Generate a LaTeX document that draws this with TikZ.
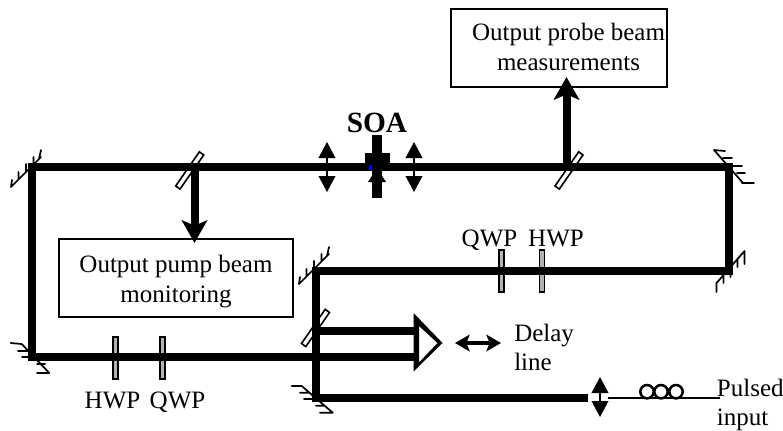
\documentclass[tikz,border=0pt]{standalone}
\usepackage{fontspec}
\setmainfont{Liberation Serif}
\usetikzlibrary{arrows.meta}
\tikzset{
  beam/.style={line width=6pt,line join=miter,line cap=butt},
  boxnode/.style={draw,line width=1.3pt,inner sep=0pt,fill=white},
  txt/.style={font=\fontsize{18.75}{22.5}\selectfont,inner sep=0pt},
  fine/.style={line width=1.3pt,line cap=round,line join=round},
  plate/.style={draw,line width=1.2pt,fill=gray!60},
  bigarrow/.style={line width=6pt,-{Stealth[length=17pt,width=19pt,inset=4pt]}},
  lens/.style={line width=1.2pt,{Triangle[length=12pt,width=12.5pt]}-{Triangle[length=12pt,width=12.5pt]}},
  splitter/.pic={\draw[line width=1.2pt,fill=white] (-14,15.5)--(-9.7,18.6)--(14,-15.5)--(9.7,-18.7)--cycle;},
  mirrorup/.pic={\draw[fine] (-15,15)--(15,-15)
     (-15,15)--(-14,8) (-7.5,7.5)--(-7.5,0) (0,0)--(0,-8) (7.5,-7.5)--(7.5,-15) (13,-13)--(15,-22);},
  mirrordown/.pic={\draw[fine] (-14,16)--(14,-16)
     (-14,16)--(-14,25) (-7,8)--(-7,16) (0,0)--(0,10) (7,-8)--(7,0) (14,-16)--(14,-3);},
}
\begin{document}
\begin{tikzpicture}[x=0.75pt,y=-0.75pt]
\useasboundingbox (0,0) rectangle (783,430);
% named junctions
\coordinate (tl) at (32,167);
\coordinate (tr) at (729,167);
\coordinate (mr) at (729,270.5);
\coordinate (ml) at (316,270.5);
\coordinate (bm) at (316,398);
\coordinate (bl) at (32,357);
\coordinate (end1) at (415,357);
\coordinate (end2) at (415,331);
\coordinate (start2) at (316,331);
\coordinate (beamend) at (588,398);
\coordinate (fibA) at (608,397.5);
\coordinate (fibB) at (720,397.5);
\coordinate (bsA) at (194.5,167);
\coordinate (bsB) at (566.5,167);
% boxes
\node[boxnode,minimum width=162.4pt,minimum height=58.5pt] (probe) at (559,48) {};
\node[boxnode,minimum width=175pt,minimum height=58.5pt] (pump) at (176,278.3) {};
\node[txt,anchor=base] (probeA) at (568.5,40) {Output probe beam};
\node[txt,anchor=base] (probeB) at (568.5,70) {measurements};
\node[txt,anchor=base] (pumpA) at (176,272) {Output pump beam};
\node[txt,anchor=base] (pumpB) at (176,302) {monitoring};
% splitters and plates (under the beams)
\pic at (189.7,170.5) {splitter};
\pic at (569,170.5) {splitter};
\pic at (315.5,328) {splitter};
\node[plate,minimum width=4pt,minimum height=31.5pt,inner sep=0pt] (hwpL) at (115.5,358) {};
\node[plate,minimum width=4pt,minimum height=31.5pt,inner sep=0pt] (qwpL) at (162.5,358) {};
\node[plate,minimum width=4pt,minimum height=31.5pt,inner sep=0pt] (qwpU) at (501.5,271) {};
\node[plate,minimum width=4pt,minimum height=31.5pt,inner sep=0pt] (hwpU) at (542,271) {};
% beams
\draw[beam] (end1)--(bl)--(tl)--(tr)--(mr)--(ml)--(bm)--(beamend);
\draw[beam] (start2)--(end2);
\draw[bigarrow] (bsA)--(194.5,243);
\draw[bigarrow] (bsB)--(566.5,77);
% mirrors
\pic at (26,172) {mirrorup};
\pic at (314,269) {mirrorup};
\pic at (730.5,267) {mirrordown};
\draw[fine] (714,150)--(743,183)
  (714,150)--(725,151) (723,158)--(732,158) (732,166)--(742,166) (737,173)--(745,173) (742,183)--(754,183);
\draw[fine] (21.7,344)--(49.3,373)
  (10.7,343)--(21.7,344) (18,351)--(28,351) (22,357)--(33,357) (37,364)--(45,364) (37,373)--(49.3,373);
\draw[fine] (301.7,386)--(332.7,412.7)
  (291.7,386)--(301.7,386) (300,392.7)--(309.3,392.7) (304,399)--(315,399) (316,405.7)--(325,405.7) (320,412.7)--(332.7,412.7);
% retro-reflector
\fill[even odd rule] (413.5,313)--(442.5,343)--(413.5,371.5)--cycle (419,326)--(419,362.5)--(437.5,343)--cycle;
% SOA
\fill (372,135) rectangle (382,198);
\fill (364.5,152.5) rectangle (389.5,165);
\fill (377,168)--(386,182)--(368,182)--cycle;
\fill[blue] (369,165) rectangle (372,170);
\node[anchor=base,inner sep=0pt,font=\bfseries\fontsize{22}{26}\selectfont] (soa) at (377,132) {SOA};
% lenses
\coordinate (lensAa) at (327,142); \coordinate (lensAb) at (327,192);
\coordinate (lensBa) at (414,142); \coordinate (lensBb) at (414,192);
\coordinate (lensCa) at (600,377); \coordinate (lensCb) at (600,417);
\draw[lens] (lensAa)--(lensAb);
\draw[lens] (lensBa)--(lensBb);
\draw[lens] (lensCa)--(lensCb);
% delay arrow
\coordinate (delA) at (455,343); \coordinate (delB) at (501,343);
\draw[line width=3pt,{Stealth[length=11pt,width=12.5pt,inset=2.5pt]}-{Stealth[length=11pt,width=12.5pt,inset=2.5pt]}] (delA)--(delB);
% fibre
\draw[line width=1.5pt] (fibA)--(fibB);
\draw[line width=1.9pt] (647,391.7) circle (6.7) (661,391.7) circle (6.7) (676,391.7) circle (6.7);
% labels
\node[txt,anchor=base] (lq1) at (489.5,246.7) {QWP};
\node[txt,anchor=base] (lh1) at (556,246.7) {HWP};
\node[txt,anchor=base] (lh2) at (112.5,408) {HWP};
\node[txt,anchor=base] (lq2) at (177.5,408) {QWP};
\node[txt,anchor=base west] (del1) at (514,341.7) {Delay};
\node[txt,anchor=base west] (del2) at (514,370.7) {line};
\node[txt,anchor=base west] (pul1) at (716.7,396) {Pulsed};
\node[txt,anchor=base west] (pul2) at (716.7,425) {input};
\end{tikzpicture}
\end{document}
